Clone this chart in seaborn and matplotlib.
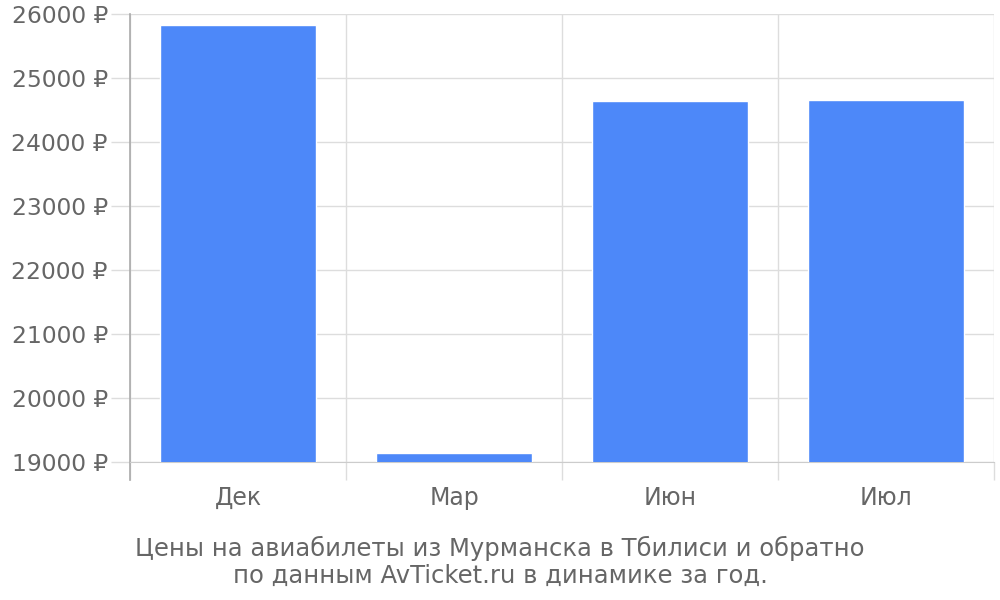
import numpy as np
import pandas as pd
import matplotlib
matplotlib.use("Agg")
import matplotlib.pyplot as plt
import seaborn as sns
from matplotlib.ticker import FixedLocator, FuncFormatter

months = ["Дек", "Мар", "Июн", "Июл"]
prices = [25830, 19140, 24635, 24650]
y_ticks = [19000, 20000, 21000, 22000, 23000, 24000, 25000, 26000]
caption = ("Цены на авиабилеты из Мурманска в Тбилиси и обратно\n"
           "по данным AvTicket.ru в динамике за год.")

TEXT = "#666666"
BAR = "#4d88f9"

sns.set_style("white")
plt.rcParams["font.family"] = ["DejaVu Sans"]

df = pd.DataFrame({"month": months, "price": prices})

fig = plt.figure(figsize=(10, 6), dpi=100)
ax = fig.add_axes([0.13, 0.23, 0.864, 0.7467])

sns.barplot(data=df, x="month", y="price", color=BAR, width=0.72,
            saturation=1, ax=ax, zorder=3)

ax.set_ylim(19000, 26000)
ax.set_xlim(-0.5, len(months) - 0.5)
ax.yaxis.set_major_locator(FixedLocator(y_ticks))
ax.yaxis.set_major_formatter(FuncFormatter(lambda v, _: f"{int(v)} ₽"))
ax.grid(axis="y", color="#dddddd", linewidth=1, zorder=0)

# category boundaries as minor ticks + vertical grid
ax.xaxis.set_minor_locator(FixedLocator(np.arange(-0.5, len(months), 1.0)))
ax.grid(axis="x", which="minor", color="#dddddd", linewidth=1, zorder=0)
ax.tick_params(axis="x", which="minor", bottom=True, length=13, width=1, color="#dddddd")
ax.tick_params(axis="x", which="major", bottom=False, length=0, labelsize=17,
               labelcolor=TEXT, pad=17)
ax.tick_params(axis="y", left=True, length=14, width=1, color="#dddddd", labelsize=16.8,
               labelcolor=TEXT, pad=2)

for side in ["top", "right"]:
    ax.spines[side].set_visible(False)
ax.spines["left"].set_color("#aaaaaa")
ax.spines["left"].set_linewidth(1.2)
ax.spines["left"].set_bounds(19000 - 7000 * 18 / 448, 26000)
ax.spines["bottom"].set_color("#cccccc")
ax.set_xlabel("")
ax.set_ylabel("")

fig.text(0.5, 0.063, caption, ha="center", va="center", fontsize=17.5,
         color=TEXT, linespacing=1.15)

fig.savefig("out.png", dpi=100)
